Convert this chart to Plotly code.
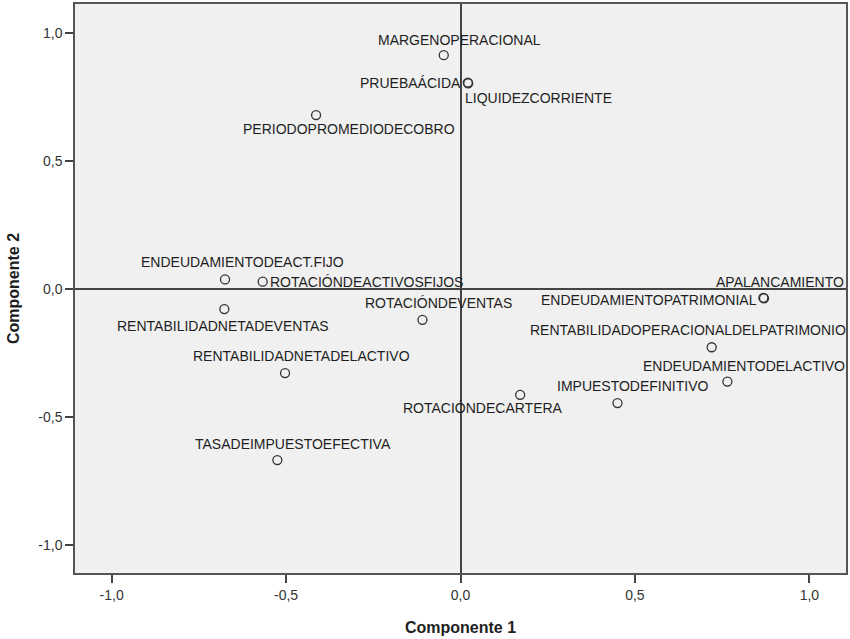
import plotly.graph_objects as go

labels = ["MARGENOPERACIONAL", "PRUEBAÁCIDA", "LIQUIDEZCORRIENTE", "PERIODOPROMEDIODECOBRO",
          "ENDEUDAMIENTODEACT.FIJO", "ROTACIÓNDEACTIVOSFIJOS", "RENTABILIDADNETADEVENTAS",
          "ROTACIÓNDEVENTAS", "RENTABILIDADNETADELACTIVO", "APALANCAMIENTO",
          "ENDEUDAMIENTOPATRIMONIAL", "RENTABILIDADOPERACIONALDELPATRIMONIO",
          "ENDEUDAMIENTODELACTIVO", "IMPUESTODEFINITIVO", "ROTACIÓNDECARTERA",
          "TASADEIMPUESTOEFECTIVA"]
componente1 = [-0.048, 0.021, 0.022, -0.414, -0.675, -0.567, -0.677, -0.109, -0.503,
               0.870, 0.868, 0.720, 0.765, 0.450, 0.171, -0.525]
componente2 = [0.913, 0.806, 0.803, 0.679, 0.037, 0.028, -0.079, -0.121, -0.329,
               -0.037, -0.035, -0.228, -0.362, -0.446, -0.414, -0.669]

# label placement styles (anchor, x pixel shift, y pixel shift)
label_anchor = ["center", "right", "left", "center", "center", "left", "center", "center",
                "center", "center", "right", "center", "center", "center", "center", "center"]
label_dx = [16, -5, -5, 33, 17, 5, -1, 16, 16, 16, -4, -24, 17, 16, -37, 16]
label_dy = [15, 0, -15, -14, 17, 0, -17, 17, 17, 16, -2, 17, 16, 17, -13, 16]

tickvals = [-1.0, -0.5, 0.0, 0.5, 1.0]
ticktext = ["-1,0", "-0,5", "0,0", "0,5", "1,0"]

font_family = "Liberation Sans, Arial"

fig = go.Figure()
fig.add_trace(go.Scatter(
    x=componente1, y=componente2, mode="markers",
    marker=dict(symbol="circle-open", size=9, color="#333333", line=dict(width=1.3)),
    hovertext=labels, showlegend=False, cliponaxis=False,
))

for lab, x, y, anc, dx, dy in zip(labels, componente1, componente2, label_anchor, label_dx, label_dy):
    fig.add_annotation(x=x, y=y, text=lab, showarrow=False, xanchor=anc, yanchor="middle",
                       xshift=dx, yshift=dy,
                       font=dict(family=font_family, size=14, color="#1e1e1e"))

axis_common = dict(
    tickvals=tickvals, ticktext=ticktext, ticks="outside", ticklen=8, tickwidth=1.5,
    tickcolor="#444444", showgrid=False, showline=True, linecolor="#555555", linewidth=1.5,
    mirror=True, zeroline=True, zerolinecolor="#444444", zerolinewidth=1.5,
    tickfont=dict(family=font_family, size=14, color="#333333"),
)

fig.update_layout(
    width=850, height=639,
    margin=dict(l=75, r=2, t=3, b=66),
    paper_bgcolor="white", plot_bgcolor="#f0f0f0",
    xaxis=dict(range=[-1.105, 1.105], **axis_common,
               title=dict(text="<b>Componente 1</b>", standoff=20,
                          font=dict(family=font_family, size=16, color="#1e1e1e"))),
    yaxis=dict(range=[-1.11, 1.113], **axis_common,
               title=dict(text="<b>Componente 2</b>", standoff=15,
                          font=dict(family=font_family, size=16, color="#1e1e1e"))),
)

fig.write_html("out.html")
